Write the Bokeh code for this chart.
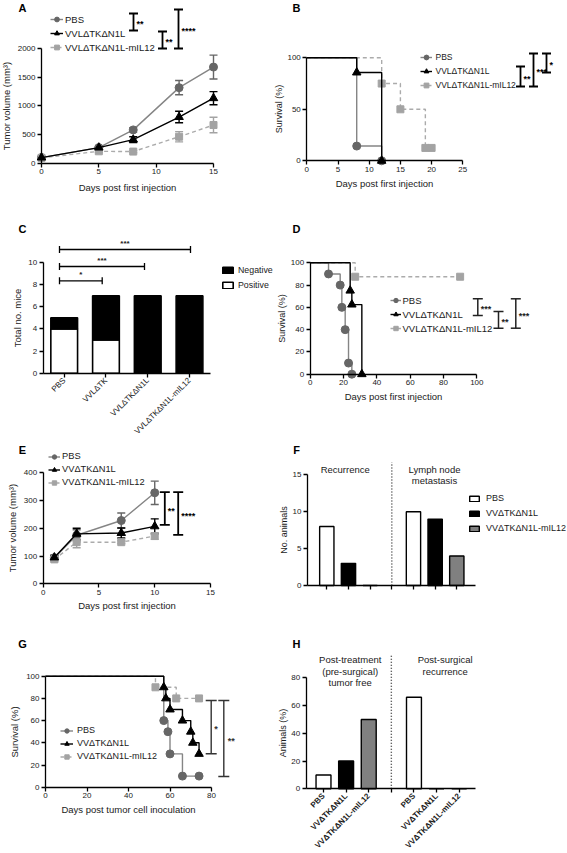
import math
from bokeh.plotting import figure
from bokeh.models import (Range1d, LinearAxis, FixedTicker, Legend, LegendItem,
                          Whisker, TeeHead, ColumnDataSource)
from bokeh.layouts import column, row
from bokeh.embed import file_html
from bokeh.resources import INLINE
from bokeh.core.properties import value

FONT = "Liberation Sans"

# ------------------------------------------------------------------ data
# Panel A: tumour growth (mean, SEM)
a_days = [0, 5, 8, 12, 15]
a_pbs = [95, 270, 580, 1320, 1680]
a_pbs_sem = [10, 20, 40, 125, 210]
a_vvl = [95, 270, 410, 805, 1135]
a_vvl_sem = [10, 20, 50, 100, 115]
a_il12 = [90, 205, 200, 460, 665]
a_il12_sem = [10, 20, 20, 90, 135]
a_labels = ["PBS", "VVLΔTKΔN1L", "VVLΔTKΔN1L-mIL12"]
a_sig = ["**", "**", "****"]

# Panel B: survival
b_pbs_t = [0, 8, 12]
b_pbs_s = [100, 14.3, 0]
b_vvl_t = [0, 8, 12]
b_vvl_s = [100, 85.7, 0]
b_il12_t = [0, 12, 15, 19, 20]
b_il12_s = [100, 75, 50, 12.5, 12.5]
b_sig = ["**", "***", "*"]

# Panel C: stacked counts
c_groups = ["PBS", "VVLΔTK", "VVLΔTKΔN1L", "VVLΔTKΔN1L-mIL12"]
c_positive = [4, 3, 0, 0]
c_negative = [1, 4, 7, 7]
c_sig = ["*", "***", "***"]

# Panel D: survival
d_pbs_t = [0, 11, 18, 19, 21, 23, 25]
d_pbs_s = [100, 90, 80, 60, 40, 10, 0]
d_vvl_t = [0, 24, 25, 31]
d_vvl_s = [100, 75, 62.5, 0]
d_il12_t = [0, 27, 90]
d_il12_s = [100, 87.5, 87.5]
d_sig = ["***", "**", "***"]

# Panel E: tumour growth
e_days = [1, 3, 7, 10]
e_pbs = [94, 175, 228, 328]
e_pbs_sem = [8, 20, 27, 42]
e_vv = [95, 180, 183, 207]
e_vv_sem = [8, 20, 18, 27]
e_il12 = [88, 150, 150, 172]
e_il12_sem = [8, 20, 5, 12]
e_labels = ["PBS", "VVΔTKΔN1L", "VVΔTKΔN1L-mIL12"]
e_sig = ["**", "****"]

# Panel F: counts per section
f_sections = [["Recurrence"], ["Lymph node", "metastasis"]]
f_pbs = [8, 10]
f_vv = [3, 9]
f_il12 = [0, 4]

# Panel G: survival
g_pbs_t = [0, 57, 59, 60, 66, 74]
g_pbs_s = [100, 60, 50, 30, 10, 10]
g_vv_t = [0, 57, 58, 60, 66, 70, 71, 74]
g_vv_s = [100, 90, 80, 70, 60, 50, 40, 30]
g_il12_t = [0, 53, 63, 74]
g_il12_s = [100, 90, 80, 80]
g_sig = ["*", "**"]

# Panel H: percentages per section
h_sections = [["Post-treatment", "(pre-surgical)", "tumor free"], ["Post-surgical", "recurrence"]]
h_pbs = [10, 66]
h_vv = [20, 0]
h_il12 = [50, 0]

# ------------------------------------------------------------------ style
PBS_LINE, PBS_MARK = "#858585", "#666666"
IL_LINE, IL_MARK = "#ababab", "#a3a3a3"
BAR_GREY = "#808080"
TXT = "#1a1a1a"
CIRC, TRI, SQ = 8, 8.5, 7

SX = 1.0
SY = 1.0
COL_W = [273, 293]
ROW_H = [200, 240, 190, 222]


class Geo:
    """Maps reference-picture pixels to a panel's screen space / data space."""

    def __init__(self, col, r):
        self.w = COL_W[col]
        self.h = ROW_H[r]
        self.left = sum(COL_W[:col])
        self.top = sum(ROW_H[:r])

    def px(self, X):
        return X * SX - self.left

    def py(self, Y):
        return self.h - (Y * SY - self.top)

    def xrange(self, d0, X0, d1, X1):
        p0, p1 = self.px(X0), self.px(X1)
        self.kx = (p1 - p0) / (d1 - d0)
        self.x0 = d0 - p0 / self.kx
        return Range1d(self.x0, self.x0 + self.w / self.kx)

    def yrange(self, e0, Y0, e1, Y1):
        q0, q1 = self.py(Y0), self.py(Y1)
        self.ky = (q1 - q0) / (e1 - e0)
        self.y0 = e0 - q0 / self.ky
        return Range1d(self.y0, self.y0 + self.h / self.ky)

    def dx(self, X):
        return self.x0 + self.px(X) / self.kx

    def dy(self, Y):
        return self.y0 + self.py(Y) / self.ky


def make_fig(g, xr, yr):
    p = figure(width=g.w, height=g.h, x_range=xr, y_range=yr, output_backend="svg",
               toolbar_location=None, x_axis_type=None, y_axis_type=None,
               min_border_left=0, min_border_right=0, min_border_top=0, min_border_bottom=0)
    p.outline_line_color = None
    p.background_fill_color = "white"
    p.border_fill_color = "white"
    return p


def style_axis(ax, size="8px"):
    ax.axis_line_color = "black"
    ax.axis_line_width = 1.3
    ax.major_tick_line_color = "black"
    ax.major_tick_line_width = 1.3
    ax.major_tick_out = 4
    ax.major_tick_in = 0
    ax.minor_tick_out = 0
    ax.minor_tick_in = 0
    ax.major_label_text_font = FONT
    ax.major_label_text_font_size = size
    ax.major_label_text_color = TXT
    ax.major_label_standoff = 2
    ax.axis_label_text_font = FONT
    ax.axis_label_text_font_size = "9.5px"
    ax.axis_label_text_font_style = "normal"
    ax.axis_label_text_color = TXT


def add_axes(p, xloc, xb, xt, xlab, yloc, yb, yt, ylab, xstd=4, ystd=3, ysize="9.5px"):
    xa = LinearAxis(fixed_location=xloc, bounds=xb, ticker=FixedTicker(ticks=xt), axis_label=xlab)
    ya = LinearAxis(fixed_location=yloc, bounds=yb, ticker=FixedTicker(ticks=yt), axis_label=ylab)
    style_axis(xa)
    style_axis(ya)
    xa.axis_label_standoff = xstd
    ya.axis_label_standoff = ystd
    ya.axis_label_text_font_size = ysize
    p.add_layout(xa, "below")
    p.add_layout(ya, "left")
    return xa, ya


def growth(p, x, m, e, lcol, mcol, marker, size, dash="solid"):
    src = ColumnDataSource(dict(x=x, m=m, lo=[a - b for a, b in zip(m, e)],
                                hi=[a + b for a, b in zip(m, e)]))
    w = Whisker(source=src, base="x", lower="lo", upper="hi", dimension="height",
                line_color=mcol, line_width=1.4,
                lower_head=TeeHead(size=8, line_color=mcol, line_width=1.4),
                upper_head=TeeHead(size=8, line_color=mcol, line_width=1.4))
    p.add_layout(w)
    lr = p.line("x", "m", source=src, line_color=lcol, line_width=1.4, line_dash=dash)
    sr = p.scatter("x", "m", source=src, marker=marker, size=size, fill_color=mcol, line_color=mcol)
    return [lr, sr]


def km(p, t, s, lcol, mcol, marker, size, dash="solid"):
    lr = p.step(x=t, y=s, mode="after", line_color=lcol, line_width=1.4, line_dash=dash)
    sr = p.scatter(x=t[1:], y=s[1:], marker=marker, size=size, fill_color=mcol, line_color=mcol)
    return [lr, sr]


def legend(p, g, entries, X_left, Y_first, pitch, gw, standoff, gh=None, font="9px"):
    n = len(entries)
    spacing = 2
    row_h = int(round(pitch * SY)) - spacing
    height = n * row_h + (n - 1) * spacing
    top = g.py(Y_first) + row_h / 2.0
    items = [LegendItem(label=lab, renderers=rs) for lab, rs in entries]
    leg = Legend(items=items, location=(g.px(X_left), top - height), orientation="vertical",
                 padding=0, spacing=spacing, margin=0, glyph_width=gw,
                 glyph_height=gh if gh else row_h, label_height=row_h,
                 label_standoff=standoff, label_text_font=FONT, label_text_font_size=font,
                 label_text_color=TXT, border_line_color=None, background_fill_alpha=0)
    p.add_layout(leg)
    return leg


def text(p, g, X, Y, s, size="9.5px", align="left", baseline="middle", bold=False, color=TXT):
    p.text(x=[g.dx(X)], y=[g.dy(Y)], text=[s], text_font=value(FONT), text_font_size=size,
           text_align=align, text_baseline=baseline, text_color=color,
           text_font_style="bold" if bold else "normal")


def letter(p, g, X, Y, s):
    text(p, g, X, Y, s, size="11px", align="center", bold=True, color="black")


def vbracket(p, g, X, Y0, Y1, s, hw=4.5, lw=1.8, color="black", tx=3):
    x, xl, xr = g.dx(X), g.dx(X - hw), g.dx(X + hw)
    y0, y1 = g.dy(Y0), g.dy(Y1)
    p.segment(x0=[x, xl, xl], y0=[y0, y0, y1], x1=[x, xr, xr], y1=[y1, y0, y1],
              line_color=color, line_width=lw)
    text(p, g, X + tx, (Y0 + Y1) / 2.0 + 2, s, size="9px", bold=True, color=color)


def hbracket(p, g, X0, X1, Y, s, hh=3.5, lw=1.3):
    x0, x1 = g.dx(X0), g.dx(X1)
    y, ya, yb = g.dy(Y), g.dy(Y - hh), g.dy(Y + hh)
    p.segment(x0=[x0, x0, x1], y0=[y, ya, ya], x1=[x1, x0, x1], y1=[y, yb, yb],
              line_color="black", line_width=lw)
    text(p, g, (X0 + X1) / 2.0, Y - 2, s, size="8px", align="center", baseline="bottom", bold=True)


# ------------------------------------------------------------------ panels
def panel_A():
    g = Geo(0, 0)
    p = make_fig(g, g.xrange(0, 41, 15, 213), g.yrange(0, 162.5, 2000, 48.3))
    add_axes(p, 0, (0, 15), [0, 5, 10, 15], "Days post first injection",
             0, (0, 2000), [0, 500, 1000, 1500, 2000], "Tumor volume (mm³)", ystd=3)
    r1 = growth(p, a_days, a_pbs, a_pbs_sem, PBS_LINE, PBS_MARK, "circle", CIRC)
    r3 = growth(p, a_days, a_il12, a_il12_sem, IL_LINE, IL_MARK, "square", SQ, "4 3")
    r2 = growth(p, a_days, a_vvl, a_vvl_sem, "black", "black", "triangle", TRI)
    legend(p, g, [(a_labels[0], r1), (a_labels[1], r2), (a_labels[2], r3)], 50, 19, 14.5, 13, 2,
           font="9.5px")
    vbracket(p, g, 133, 13, 30, a_sig[0])
    vbracket(p, g, 162, 31, 48, a_sig[1])
    vbracket(p, g, 178, 9, 48, a_sig[2])
    letter(p, g, 22, 7, "A")
    return p


def panel_B():
    g = Geo(1, 0)
    p = make_fig(g, g.xrange(0, 306.3, 25, 462.3), g.yrange(0, 160.3, 100, 57.3))
    add_axes(p, 0, (0, 25), [0, 5, 10, 15, 20, 25], "Days post first injection",
             0, (0, 100), [0, 50, 100], "Survival (%)", xstd=3, ystd=0, ysize="9px")
    r3 = km(p, b_il12_t, b_il12_s, IL_LINE, IL_MARK, "square", SQ, "4 3")
    r1 = km(p, b_pbs_t, b_pbs_s, PBS_LINE, PBS_MARK, "circle", CIRC)
    r2 = km(p, b_vvl_t, b_vvl_s, "black", "black", "triangle", TRI)
    legend(p, g, [(a_labels[0], r1), (a_labels[1], r2), (a_labels[2], r3)], 419.5, 57.3, 14, 12, 4,
           font="8.5px")
    vbracket(p, g, 520, 66, 86, b_sig[0])
    vbracket(p, g, 533, 53, 86, b_sig[1])
    vbracket(p, g, 546, 53, 72, b_sig[2])
    letter(p, g, 296, 7, "B")
    return p


def panel_C():
    g = Geo(0, 1)
    p = make_fig(g, g.xrange(1, 63.7, 4, 189), g.yrange(0, 372.7, 10, 262))
    pos = list(range(1, len(c_groups) + 1))
    xa, ya = add_axes(p, 0, (g.dx(42.7), g.dx(210)), pos, None,
                      g.dx(42.7), (0, 10), [0, 2, 4, 6, 8, 10], "Total no. mice", ystd=3)
    xa.major_label_overrides = {i: lab for i, lab in zip(pos, c_groups)}
    xa.major_label_orientation = math.pi / 4
    src = ColumnDataSource(dict(x=pos, Positive=c_positive, Negative=c_negative))
    rs = p.vbar_stack(["Positive", "Negative"], x="x", width=0.64, source=src,
                      fill_color=["white", "black"], line_color="black", line_width=1.6)
    legend(p, g, [("Negative", [rs[1]]), ("Positive", [rs[0]])], 221, 270, 15, 13, 4, gh=8,
           font="8.8px")
    hbracket(p, g, 59, 101.7, 280.3, c_sig[0])
    hbracket(p, g, 59, 144, 266, c_sig[1])
    hbracket(p, g, 59, 190, 249, c_sig[2])
    letter(p, g, 22, 228, "C")
    return p


def panel_D():
    g = Geo(1, 1)
    p = make_fig(g, g.xrange(0, 309.7, 100, 476.3), g.yrange(0, 373.7, 100, 262.3))
    add_axes(p, 0, (0, 100), [0, 20, 40, 60, 80, 100], "Days post first injection",
             0, (0, 100), [0, 20, 40, 60, 80, 100], "Survival (%)", xstd=2, ystd=1, ysize="9px")
    r3 = km(p, d_il12_t, d_il12_s, IL_LINE, IL_MARK, "square", SQ, "4 3")
    r1 = km(p, d_pbs_t, d_pbs_s, PBS_LINE, PBS_MARK, "circle", CIRC)
    r2 = km(p, d_vvl_t, d_vvl_s, "black", "black", "triangle", TRI)
    legend(p, g, [(a_labels[0], r1), (a_labels[1], r2), (a_labels[2], r3)], 389.5, 300, 13.8, 11, 2,
           font="9.5px")
    vbracket(p, g, 477.3, 298.3, 315, d_sig[0], hw=5, lw=1.5, color="#222")
    vbracket(p, g, 498, 311, 327.7, d_sig[1], hw=5, lw=1.5, color="#222")
    vbracket(p, g, 515.3, 298.3, 327.7, d_sig[2], hw=5, lw=1.5, color="#222")
    letter(p, g, 296, 228, "D")
    return p


def panel_E():
    g = Geo(0, 2)
    p = make_fig(g, g.xrange(0, 42.7, 15, 210), g.yrange(0, 583.3, 400, 472.3))
    add_axes(p, 0, (0, 15), [0, 5, 10, 15], "Days post first injection",
             0, (0, 400), [0, 100, 200, 300, 400], "Tumor volume (mm³)", xstd=2, ystd=3)
    r1 = growth(p, e_days, e_pbs, e_pbs_sem, PBS_LINE, PBS_MARK, "circle", CIRC)
    r3 = growth(p, e_days, e_il12, e_il12_sem, IL_LINE, IL_MARK, "square", SQ, "4 3")
    r2 = growth(p, e_days, e_vv, e_vv_sem, "black", "black", "triangle", TRI)
    legend(p, g, [(e_labels[0], r1), (e_labels[1], r2), (e_labels[2], r3)], 48, 456, 13.3, 12, 2,
           font="9.3px")
    vbracket(p, g, 164.3, 491.7, 524.3, e_sig[0], hw=5)
    vbracket(p, g, 177.7, 491.7, 534.3, e_sig[1], hw=5)
    letter(p, g, 22, 449, "E")
    return p


def bar_panel(p, g, series, colors, sep_top):
    n = len(series)
    rend = []
    for s, (vals, col) in enumerate(zip(series, colors)):
        xs = [1 + (n + 1) * i + s for i in range(len(vals))]
        rend.append(p.vbar(x=xs, top=vals, width=0.66, fill_color=col,
                           line_color="black", line_width=1.4))
    sep = n + 1
    p.segment(x0=[sep], y0=[0], x1=[sep], y1=[g.dy(sep_top)], line_color="#333",
              line_width=1.4, line_dash="1 2")
    return rend


def panel_F():
    g = Geo(1, 2)
    p = make_fig(g, g.xrange(1, 326.3, 7, 456.3), g.yrange(0, 585, 15, 474.3))
    ticks = list(range(1, 8))
    xa, ya = add_axes(p, 0, (g.dx(307), g.dx(474.7)), ticks, None,
                      g.dx(307), (0, 15), [0, 5, 10, 15], "No. animals", ystd=1, ysize="9px")
    xa.major_label_overrides = {t: "" for t in ticks}
    rend = bar_panel(p, g, [f_pbs, f_vv, f_il12], ["white", "black", BAR_GREY], 461.7)
    legend(p, g, [(e_labels[i], [rend[i]]) for i in range(3)], 468, 498.3, 15, 12, 6, gh=7,
           font="9px")
    for j, line in enumerate(f_sections[0]):
        text(p, g, 344.7, 469 + 11 * j, line, align="center")
    for j, line in enumerate(f_sections[1]):
        text(p, g, 434, 469 + 11 * j, line, align="center")
    letter(p, g, 296, 449, "F")
    return p


def panel_G():
    g = Geo(0, 3)
    p = make_fig(g, g.xrange(0, 45, 80, 211), g.yrange(0, 786.7, 100, 675.7))
    add_axes(p, 0, (0, 80), [0, 20, 40, 60, 80], "Days post tumor cell inoculation",
             0, (0, 100), [0, 20, 40, 60, 80, 100], "Survival (%)", xstd=2, ystd=3)
    r3 = km(p, g_il12_t, g_il12_s, IL_LINE, IL_MARK, "square", SQ, "4 3")
    r1 = km(p, g_pbs_t, g_pbs_s, PBS_LINE, PBS_MARK, "circle", CIRC)
    r2 = km(p, g_vv_t, g_vv_s, "black", "black", "triangle", TRI)
    legend(p, g, [(e_labels[0], r1), (e_labels[1], r2), (e_labels[2], r3)], 60, 730, 13.3, 13, 4,
           font="9px")
    vbracket(p, g, 210.7, 700, 753.3, g_sig[0], hw=5.5, lw=1.4, color="#333")
    vbracket(p, g, 223.3, 700, 776, g_sig[1], hw=5.5, lw=1.4, color="#333", tx=4)
    letter(p, g, 22, 643, "G")
    return p


def panel_H():
    g = Geo(1, 3)
    p = make_fig(g, g.xrange(1, 323, 7, 458.7), g.yrange(0, 788.3, 80, 677.3))
    ticks = list(range(1, 8))
    xa, ya = add_axes(p, 0, (g.dx(305.7), g.dx(474.7)), ticks, None,
                      g.dx(305.7), (0, 80), [0, 20, 40, 60, 80], "Animals (%)", ystd=1, ysize="9px")
    names = e_labels + [""] + e_labels
    xa.major_label_overrides = {t: nm for t, nm in zip(ticks, names)}
    xa.major_label_orientation = math.pi / 4
    xa.major_label_text_font_style = "bold"
    bar_panel(p, g, [h_pbs, h_vv, h_il12], ["white", "black", BAR_GREY], 655)
    for j, line in enumerate(h_sections[0]):
        text(p, g, 349.7, 659.3 + 11.2 * j, line, align="center")
    for j, line in enumerate(h_sections[1]):
        text(p, g, 444.7, 659.3 + 11.2 * j, line, align="center")
    letter(p, g, 296, 643, "H")
    return p


layout = column(row(panel_A(), panel_B(), spacing=0),
                row(panel_C(), panel_D(), spacing=0),
                row(panel_E(), panel_F(), spacing=0),
                row(panel_G(), panel_H(), spacing=0), spacing=0)

open("out.html", "w").write(file_html(layout, INLINE))
